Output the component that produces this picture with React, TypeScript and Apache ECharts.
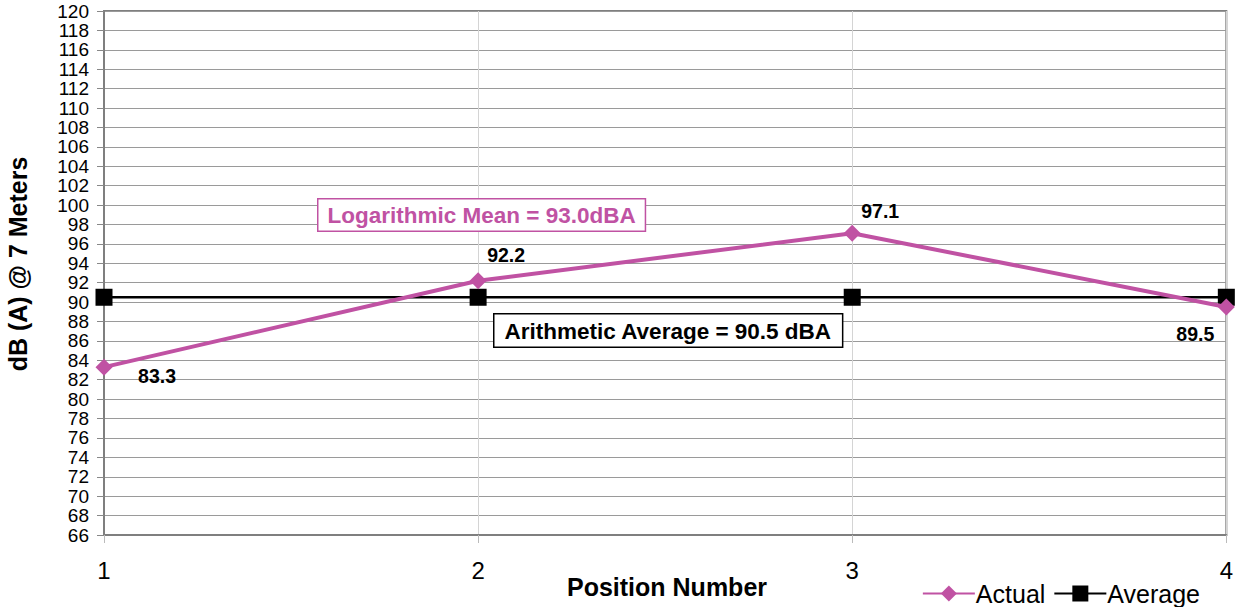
import React, { useEffect, useRef } from "react";
import * as echarts from "echarts";

const positions = [1, 2, 3, 4];
const actual = [83.3, 92.2, 97.1, 89.5];
const average = [90.5, 90.5, 90.5, 90.5];
const logMeanText = "Logarithmic Mean = 93.0dBA";
const arithText = "Arithmetic Average = 90.5 dBA";
const labelOffsets = [
  [53, 9],
  [28, -26],
  [28, -22],
  [-31, 27],
];

const MAGENTA = "#c052a3";
const FONT = "Liberation Sans, Arial, sans-serif";

export default function App() {
  const ref = useRef<HTMLDivElement>(null);
  useEffect(() => {
    if (!ref.current) return;
    const chart = echarts.init(ref.current, null, { renderer: "svg" });
    chart.setOption({
      animation: false,
      textStyle: { fontFamily: FONT },
      grid: { left: 104, right: 6, top: 11, bottom: 72, show: true, borderColor: "#7f7f7f", borderWidth: 2, backgroundColor: "#fff" },
      legend: {
        right: 31,
        bottom: -4,
        itemWidth: 52,
        itemHeight: 20,
        itemGap: 8,
        textStyle: { fontSize: 25, color: "#000", fontFamily: FONT, padding: [0, 0, 0, -4] },
        data: ["Actual", "Average"],
      },
      xAxis: {
        type: "value",
        min: 1,
        max: 4,
        interval: 0.5,
        axisLine: { show: true, lineStyle: { color: "#7f7f7f", width: 2 } },
        axisTick: { show: true, customValues: [1, 2, 3, 4], length: 8, lineStyle: { color: "#bbb" } },
        axisLabel: {
          customValues: [1, 2, 3, 4],
          formatter: (v: number) => (Number.isInteger(v) ? String(v) : ""),
          fontSize: 24,
          color: "#000",
          margin: 23,
        },
        splitLine: { show: true, lineStyle: { color: "#d4d4d4", width: 1 } },
      },
      yAxis: {
        type: "value",
        min: 66,
        max: 120,
        interval: 2,
        axisLine: { show: true, lineStyle: { color: "#7f7f7f", width: 2 } },
        axisTick: { show: true, length: 7, lineStyle: { color: "#888" } },
        axisLabel: { fontSize: 19, color: "#000", margin: 15 },
        splitLine: { show: true, lineStyle: { color: "#9a9a9a", width: 1 } },
      },
      series: [
        {
          name: "Actual",
          type: "line",
          data: positions.map((p, i) => [p, actual[i]]),
          symbol: "diamond",
          symbolSize: 17,
          color: MAGENTA,
          lineStyle: { color: MAGENTA, width: 4 },
          itemStyle: { color: MAGENTA },
          label: {
            show: true,
            position: "inside",
            fontSize: 19.5,
            fontWeight: "bold",
            color: "#000",
            formatter: (p: any) => actual[p.dataIndex].toFixed(1),
          },
          labelLayout: (p: any) => ({
            dx: labelOffsets[p.dataIndex][0],
            dy: labelOffsets[p.dataIndex][1],
          }),
          z: 3,
        },
        {
          name: "Average",
          type: "line",
          data: positions.map((p, i) => [p, average[i]]),
          symbol: "rect",
          symbolSize: 17,
          color: "#000",
          lineStyle: { color: "#000", width: 2.5 },
          itemStyle: { color: "#000" },
          z: 2,
        },
      ],
      graphic: [
        {
          type: "text",
          left: 317,
          top: 198,
          z: 10,
          style: {
            text: logMeanText,
            fill: MAGENTA,
            font: `bold 22.5px ${FONT}`,
            backgroundColor: "#fff",
            borderColor: MAGENTA,
            borderWidth: 1.5,
            padding: [4, 9, 4, 9],
          },
        },
        {
          type: "text",
          left: 493,
          top: 313,
          z: 10,
          style: {
            text: arithText,
            fill: "#000",
            font: `bold 22.5px ${FONT}`,
            backgroundColor: "#fff",
            borderColor: "#000",
            borderWidth: 1.5,
            padding: [5, 10, 4, 10],
          },
        },
        {
          type: "text",
          x: 667,
          y: 574,
          style: { text: "Position Number", fill: "#000", font: `bold 25px ${FONT}`, textAlign: "center" },
        },
        {
          type: "text",
          rotation: Math.PI / 2,
          x: 5,
          y: 264,
          style: { text: "dB (A) @ 7 Meters", fill: "#000", font: `bold 25px ${FONT}`, textAlign: "center" },
        },
      ],
    });
    return () => chart.dispose();
  }, []);
  return (
    <div
      ref={ref}
      style={{ position: "fixed", left: 0, top: 0, width: 1236, height: 607, background: "#fff" }}
    />
  );
}
